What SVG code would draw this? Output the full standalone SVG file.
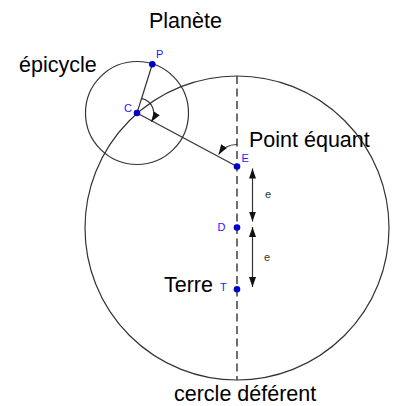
<svg xmlns="http://www.w3.org/2000/svg" width="393" height="406" viewBox="0 0 393 406">
<style>
.c{fill:none;stroke:#333;stroke-width:1.2}
.l{fill:none;stroke:#333;stroke-width:1.2}
.big{font-family:"Liberation Sans",Arial,sans-serif;font-size:21.5px;fill:#000}
.pl{font-family:"Liberation Sans",Arial,sans-serif;font-size:11px;fill:#2020ff}
.sm{font-family:"Liberation Sans",Arial,sans-serif;font-size:11px;fill:#333}
.pt{fill:#0000cc}
</style>
<defs>
<marker id="ah" markerUnits="userSpaceOnUse" markerWidth="11" markerHeight="7" refX="10" refY="3.5" orient="auto-start-reverse">
<path d="M0,0 L10,3.5 L0,7 z" fill="#111"/>
</marker>
</defs>
<rect width="393" height="406" fill="#fff"/>
<g id="deferent"><circle class="c" cx="237" cy="228" r="152"/></g>
<g id="epicycle"><circle class="c" cx="137" cy="113" r="51.5"/></g>
<g id="connectors">
<line x1="237" y1="76" x2="237" y2="380" stroke="#333" stroke-width="1.4" stroke-dasharray="8,4.5"/>
<line class="l" x1="137" y1="113" x2="152.3" y2="64.3"/>
<line class="l" x1="137" y1="113" x2="237" y2="166.5"/>
<path class="l" d="M141.8,98.7 A15,15 0 0 1 151.3,121.7" marker-end="url(#ah)"/>
<path class="l" d="M237,144.5 A22,22 0 0 0 218.6,154.5" marker-end="url(#ah)"/>
<line class="l" x1="252.5" y1="168.5" x2="252.5" y2="221.5" marker-start="url(#ah)" marker-end="url(#ah)"/>
<line class="l" x1="252.5" y1="227" x2="252.5" y2="287" marker-start="url(#ah)" marker-end="url(#ah)"/>
</g>
<g id="P"><circle class="pt" cx="152.3" cy="64.3" r="3.3"/><text class="pl" x="156" y="58">P</text></g>
<g id="C"><circle class="pt" cx="137" cy="113" r="3.3"/><text class="pl" x="124" y="112">C</text></g>
<g id="E"><circle class="pt" cx="237" cy="166.5" r="3.3"/><text class="pl" x="241.5" y="161.5">E</text></g>
<g id="D"><circle class="pt" cx="237" cy="227.5" r="3.3"/><text class="pl" x="217.5" y="231">D</text></g>
<g id="T"><circle class="pt" cx="237" cy="289.3" r="3.3"/><text class="pl" x="220" y="291">T</text></g>
<g id="labels">
<text class="big" x="149" y="28">Planète</text>
<text class="big" x="19" y="72">épicycle</text>
<text class="big" x="249" y="147">Point équant</text>
<text class="big" x="164" y="292">Terre</text>
<text class="big" x="174" y="401">cercle déférent</text>
<text class="sm" x="265" y="198">e</text>
<text class="sm" x="264" y="261">e</text>
</g>
</svg>
